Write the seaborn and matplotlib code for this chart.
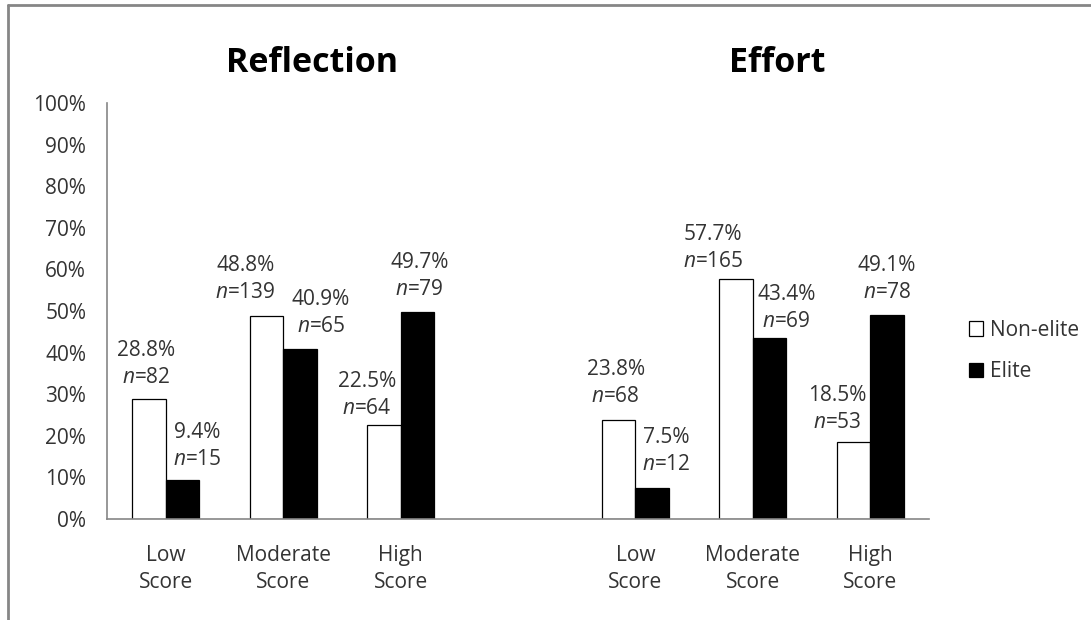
import matplotlib
matplotlib.use("Agg")
import matplotlib.pyplot as plt
from matplotlib.lines import Line2D
import seaborn as sns
import pandas as pd

# ---------------- data ----------------
panels = ["Reflection", "Effort"]
categories = ["Low\nScore", "Moderate\nScore", "High\nScore"]
groups = ["Non-elite", "Elite"]

reflection_nonelite = [28.8, 48.8, 22.5]
reflection_elite = [9.4, 40.9, 49.7]
effort_nonelite = [23.8, 57.7, 18.5]
effort_elite = [7.5, 43.4, 49.1]

reflection_n_nonelite = [82, 139, 64]
reflection_n_elite = [15, 65, 79]
effort_n_nonelite = [68, 165, 53]
effort_n_elite = [12, 69, 78]

ytick_values = [0, 10, 20, 30, 40, 50, 60, 70, 80, 90, 100]

# ---------------- build table ----------------
values = {
    ("Reflection", "Non-elite"): (reflection_nonelite, reflection_n_nonelite),
    ("Reflection", "Elite"): (reflection_elite, reflection_n_elite),
    ("Effort", "Non-elite"): (effort_nonelite, effort_n_nonelite),
    ("Effort", "Elite"): (effort_elite, effort_n_elite),
}
rows = []
for p in panels:
    for g in groups:
        vals, ns = values[(p, g)]
        for c, v, n in zip(categories, vals, ns):
            rows.append({"slot": f"{p}|{c}", "group": g, "pct": v / 100.0,
                         "label": f"{v:.1f}%", "n": n})
df = pd.DataFrame(rows)
order = [f"Reflection|{c}" for c in categories] + ["gap"] + [f"Effort|{c}" for c in categories]

# label placement (style): (dx px, gap above bar px) keyed by (slot index, group)
label_style = {
    (0, "Non-elite"): (-3, 22), (0, "Elite"): (15, 20),
    (1, "Non-elite"): (-21, 23), (1, "Elite"): (21, 22),
    (2, "Non-elite"): (-17, 17), (2, "Elite"): (2, 23),
    (4, "Non-elite"): (-3, 23), (4, "Elite"): (14, 23),
    (5, "Non-elite"): (-23, 17), (5, "Elite"): (17, 17),
    (6, "Non-elite"): (-16, 20), (6, "Elite"): (0, 22),
}

# ---------------- style ----------------
sns.set_style("white")
plt.rcParams["font.family"] = ["Open Sans", "DejaVu Sans"]
plt.rcParams["mathtext.fontset"] = "custom"
plt.rcParams["mathtext.rm"] = "Open Sans"
plt.rcParams["mathtext.it"] = "Open Sans:italic"
TXT = "#333333"
AX = "#868686"
FS = 15

W, H = 1091, 620
fig = plt.figure(figsize=(W / 100, H / 100), dpi=100)
ax = fig.add_axes([107 / W, 1 - 519 / H, (929 - 107) / W, (519 - 103) / H])

sns.barplot(data=df, x="slot", y="pct", hue="group", order=order,
            hue_order=groups, palette={"Non-elite": "white", "Elite": "black"},
            edgecolor="black", linewidth=0.9, width=0.57, ax=ax, legend=True)

ax.set_xlim(-0.5, 6.5)
ax.set_ylim(0, 1)
ax.set_yticks([v / 100 for v in ytick_values])
ax.set_yticklabels([f"{v}%" for v in ytick_values], fontsize=FS, color=TXT)
xt_labels = categories + [""] + categories
ax.set_xticks(range(len(order)))
ax.set_xticklabels(xt_labels, fontsize=FS, color=TXT, linespacing=1.35)
ax.tick_params(axis="both", length=0)
ax.tick_params(axis="x", pad=19)
ax.tick_params(axis="y", pad=15)
ax.set_xlabel("")
ax.set_ylabel("")
for s in ["top", "right"]:
    ax.spines[s].set_visible(False)
for s in ["left", "bottom"]:
    ax.spines[s].set_color(AX)
    ax.spines[s].set_linewidth(1.2)

# ---------------- value labels ----------------
lookup = {(order.index(r.slot), r.group): r for r in df.itertuples()}
for gi, cont in enumerate(ax.containers):
    g = groups[gi]
    for bar in cont:
        h = bar.get_height()
        if h != h or h == 0:
            continue
        cx = bar.get_x() + bar.get_width() / 2
        slot = int(round(cx))
        r = lookup[(slot, g)]
        dx, gap = label_style[(slot, g)]
        ax.annotate(f"$n$={r.n}", xy=(cx, h), xytext=(dx * 0.72, gap * 0.72),
                    textcoords="offset points", ha="center", va="center",
                    fontsize=FS, color=TXT, annotation_clip=False)
        ax.annotate(r.label, xy=(cx, h), xytext=(dx * 0.72, (gap + 27) * 0.72),
                    textcoords="offset points", ha="center", va="center",
                    fontsize=FS, color=TXT, annotation_clip=False)

# ---------------- titles ----------------
fig.text(312 / W, 1 - 63 / H, panels[0], fontsize=24.5, fontweight="bold",
         color="black", ha="center", va="center")
fig.text(777 / W, 1 - 63 / H, panels[1], fontsize=24.5, fontweight="bold",
         color="black", ha="center", va="center")

# ---------------- legend ----------------
sns.move_legend(ax, loc="center left", bbox_to_anchor=(950 / W, 1 - 351 / H),
                bbox_transform=fig.transFigure, title=None, frameon=False,
                fontsize=FS, handlelength=0.7, handleheight=0.7,
                handletextpad=0.3, labelspacing=1.0)
for t in ax.get_legend().get_texts():
    t.set_color(TXT)

# ---------------- outer frame ----------------
fig.add_artist(Line2D([8 / W, 8 / W], [0, 1 - 5 / H], color=AX, lw=2,
                      transform=fig.transFigure))
fig.add_artist(Line2D([8 / W, 1], [1 - 5 / H, 1 - 5 / H], color=AX, lw=2,
                      transform=fig.transFigure))

fig.savefig("out.png", dpi=100)
